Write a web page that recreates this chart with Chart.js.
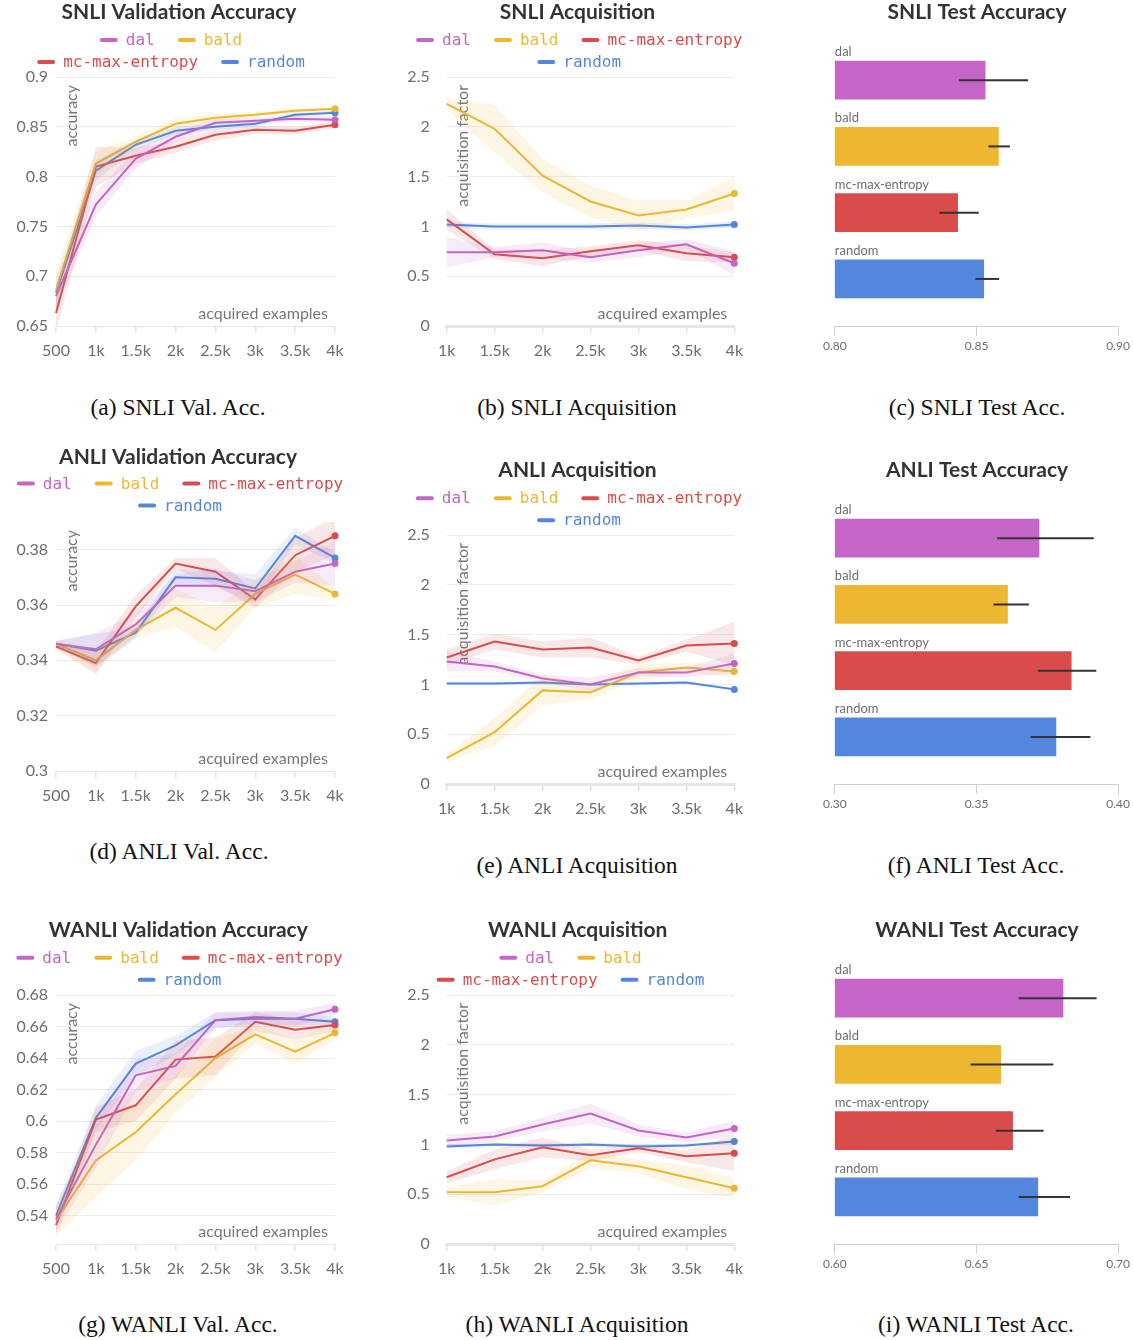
<!DOCTYPE html>
<html>
<head>
<meta charset="utf-8">
<script src="https://cdn.jsdelivr.net/npm/chart.js@4.4.1/dist/chart.umd.min.js"></script>
<style>
body { margin: 0; background: #fff; width: 1133px; height: 1340px; position: relative; overflow: hidden; }
.pane { position: absolute; }
.cap { position: absolute; width: 360px; text-align: center; font-family: "Liberation Serif", serif; font-size: 23.5px; line-height: 28px; color: #111; }
</style>
</head>
<body>
<canvas id="snliVal" class="pane" width="357" height="372" style="left:0;top:0"></canvas>
<canvas id="snliAcq" class="pane" width="355" height="372" style="left:400px;top:0"></canvas>
<canvas id="snliTest" class="pane" width="313" height="372" style="left:820px;top:0"></canvas>
<canvas id="anliVal" class="pane" width="357" height="372" style="left:0;top:445px"></canvas>
<canvas id="anliAcq" class="pane" width="355" height="372" style="left:400px;top:458px"></canvas>
<canvas id="anliTest" class="pane" width="313" height="372" style="left:820px;top:458px"></canvas>
<canvas id="wanliVal" class="pane" width="357" height="372" style="left:0;top:918px"></canvas>
<canvas id="wanliAcq" class="pane" width="355" height="372" style="left:400px;top:918px"></canvas>
<canvas id="wanliTest" class="pane" width="313" height="372" style="left:820px;top:918px"></canvas>

<div class="cap" style="left:-2px;top:393px">(a) SNLI Val. Acc.</div>
<div class="cap" style="left:397px;top:393px">(b) SNLI Acquisition</div>
<div class="cap" style="left:797px;top:393px">(c) SNLI Test Acc.</div>
<div class="cap" style="left:-1px;top:837px">(d) ANLI Val. Acc.</div>
<div class="cap" style="left:397px;top:851px">(e) ANLI Acquisition</div>
<div class="cap" style="left:796px;top:851px">(f) ANLI Test Acc.</div>
<div class="cap" style="left:-2px;top:1310px">(g) WANLI Val. Acc.</div>
<div class="cap" style="left:397px;top:1310px">(h) WANLI Acquisition</div>
<div class="cap" style="left:796px;top:1310px">(i) WANLI Test Acc.</div>

<script>
// methods and colours
const methods = ['dal', 'bald', 'mc-max-entropy', 'random'];
const methodColors = ['#c565c7', '#edb732', '#da4c4c', '#5387dd'];

// x steps (acquired examples)
const valSteps = ['500', '1k', '1.5k', '2k', '2.5k', '3k', '3.5k', '4k'];
const acqSteps = ['1k', '1.5k', '2k', '2.5k', '3k', '3.5k', '4k'];

// y tick labels
const snliValTicks = [0.65, 0.7, 0.75, 0.8, 0.85, 0.9];
const anliValTicks = [0.3, 0.32, 0.34, 0.36, 0.38];
const wanliValTicks = [0.54, 0.56, 0.58, 0.6, 0.62, 0.64, 0.66, 0.68];
const acqTicks = [0, 0.5, 1, 1.5, 2, 2.5];
const snliTestTicks = [0.80, 0.85, 0.90];
const anliTestTicks = [0.30, 0.35, 0.40];
const wanliTestTicks = [0.60, 0.65, 0.70];

// SNLI validation accuracy (mean, spread)
const snliValDal    = [0.680, 0.772, 0.818, 0.840, 0.854, 0.856, 0.858, 0.857];
const snliValBald   = [0.686, 0.813, 0.835, 0.853, 0.859, 0.862, 0.866, 0.868];
const snliValMc     = [0.663, 0.810, 0.821, 0.830, 0.842, 0.847, 0.846, 0.852];
const snliValRandom = [0.683, 0.806, 0.832, 0.846, 0.850, 0.853, 0.862, 0.864];
const snliValDalSd    = [0.012, 0.012, 0.010, 0.005, 0.004, 0.003, 0.003, 0.003];
const snliValBaldSd   = [0.020, 0.012, 0.006, 0.006, 0.004, 0.003, 0.002, 0.002];
const snliValMcSd     = [0.018, 0.020, 0.008, 0.006, 0.006, 0.004, 0.004, 0.003];
const snliValRandomSd = [0.015, 0.010, 0.005, 0.004, 0.003, 0.003, 0.002, 0.002];

// SNLI acquisition factor
const snliAcqDal    = [0.74, 0.74, 0.76, 0.69, 0.76, 0.82, 0.63];
const snliAcqBald   = [2.23, 1.98, 1.51, 1.25, 1.11, 1.17, 1.33];
const snliAcqMc     = [1.07, 0.72, 0.68, 0.75, 0.81, 0.73, 0.69];
const snliAcqRandom = [1.02, 1.00, 1.00, 1.00, 1.01, 0.99, 1.02];
const snliAcqDalSd    = [0.15, 0.05, 0.08, 0.05, 0.07, 0.05, 0.12];
const snliAcqBaldSd   = [0.06, 0.24, 0.17, 0.16, 0.15, 0.09, 0.17];
const snliAcqMcSd     = [0.10, 0.05, 0.08, 0.05, 0.05, 0.08, 0.05];
const snliAcqRandomSd = [0.03, 0.03, 0.03, 0.03, 0.03, 0.03, 0.03];

// ANLI validation accuracy
const anliValDal    = [0.346, 0.344, 0.353, 0.367, 0.367, 0.365, 0.372, 0.375];
const anliValBald   = [0.346, 0.340, 0.351, 0.359, 0.351, 0.364, 0.371, 0.364];
const anliValMc     = [0.345, 0.339, 0.3595, 0.375, 0.372, 0.362, 0.378, 0.385];
const anliValRandom = [0.346, 0.3435, 0.350, 0.370, 0.3695, 0.366, 0.385, 0.377];
const anliValDalSd    = [0.001, 0.006, 0.004, 0.004, 0.006, 0.004, 0.004, 0.008];
const anliValBaldSd   = [0.001, 0.004, 0.003, 0.007, 0.008, 0.005, 0.007, 0.002];
const anliValMcSd     = [0.001, 0.004, 0.004, 0.002, 0.005, 0.003, 0.006, 0.007];
const anliValRandomSd = [0.001, 0.006, 0.002, 0.003, 0.003, 0.005, 0.003, 0.002];

// ANLI acquisition factor
const anliAcqDal    = [1.23, 1.18, 1.06, 1.00, 1.12, 1.12, 1.21];
const anliAcqBald   = [0.26, 0.52, 0.94, 0.92, 1.12, 1.17, 1.13];
const anliAcqMc     = [1.27, 1.43, 1.35, 1.37, 1.24, 1.39, 1.41];
const anliAcqRandom = [1.01, 1.01, 1.02, 1.00, 1.01, 1.02, 0.95];
const anliAcqDalSd    = [0.10, 0.05, 0.04, 0.07, 0.04, 0.05, 0.10];
const anliAcqBaldSd   = [0.04, 0.14, 0.15, 0.07, 0.08, 0.05, 0.06];
const anliAcqMcSd     = [0.08, 0.08, 0.08, 0.10, 0.04, 0.06, 0.22];
const anliAcqRandomSd = [0.015, 0.015, 0.015, 0.015, 0.015, 0.015, 0.015];

// WANLI validation accuracy
const wanliValDal    = [0.538, 0.585, 0.629, 0.635, 0.664, 0.666, 0.665, 0.671];
const wanliValBald   = [0.537, 0.575, 0.593, 0.617, 0.640, 0.655, 0.644, 0.656];
const wanliValMc     = [0.534, 0.601, 0.610, 0.639, 0.641, 0.663, 0.658, 0.661];
const wanliValRandom = [0.540, 0.602, 0.6365, 0.648, 0.664, 0.665, 0.665, 0.663];
const wanliValDalSd    = [0.008, 0.015, 0.010, 0.008, 0.005, 0.004, 0.005, 0.004];
const wanliValBaldSd   = [0.010, 0.023, 0.018, 0.012, 0.012, 0.006, 0.008, 0.004];
const wanliValMcSd     = [0.006, 0.008, 0.010, 0.012, 0.012, 0.006, 0.006, 0.004];
const wanliValRandomSd = [0.006, 0.008, 0.008, 0.006, 0.005, 0.004, 0.004, 0.003];

// WANLI acquisition factor
const wanliAcqDal    = [1.04, 1.08, 1.20, 1.31, 1.14, 1.07, 1.16];
const wanliAcqBald   = [0.52, 0.52, 0.58, 0.84, 0.78, 0.67, 0.56];
const wanliAcqMc     = [0.67, 0.85, 0.97, 0.89, 0.96, 0.88, 0.91];
const wanliAcqRandom = [0.98, 1.00, 0.99, 1.00, 0.98, 0.99, 1.03];
const wanliAcqDalSd    = [0.06, 0.05, 0.07, 0.10, 0.06, 0.05, 0.08];
const wanliAcqBaldSd   = [0.05, 0.13, 0.06, 0.08, 0.07, 0.12, 0.10];
const wanliAcqMcSd     = [0.06, 0.10, 0.10, 0.06, 0.04, 0.06, 0.18];
const wanliAcqRandomSd = [0.02, 0.02, 0.02, 0.02, 0.02, 0.02, 0.02];

// test accuracy (bar, error low, error high) in method order
const snliTest     = [0.8534, 0.8581, 0.8437, 0.8529];
const snliTestLow  = [0.8438, 0.8542, 0.8369, 0.8496];
const snliTestHigh = [0.8682, 0.8618, 0.8508, 0.8580];
const anliTest     = [0.3724, 0.3613, 0.3838, 0.3784];
const anliTestLow  = [0.3573, 0.3560, 0.3717, 0.3691];
const anliTestHigh = [0.3914, 0.3685, 0.3923, 0.3902];
const wanliTest     = [0.6809, 0.6589, 0.6631, 0.6720];
const wanliTestLow  = [0.6649, 0.6479, 0.6568, 0.6649];
const wanliTestHigh = [0.6924, 0.6771, 0.6737, 0.6830];

Chart.defaults.font.family = 'Lato';

function fade(hex, a) {
  const n = parseInt(hex.slice(1), 16);
  return 'rgba(' + (n >> 16) + ',' + ((n >> 8) & 255) + ',' + (n & 255) + ',' + a + ')';
}

// title + legend of the line panels: short dash and monospace coloured name
const header = {
  id: 'header',
  afterDraw(chart, args, o) {
    const ctx = chart.ctx;
    ctx.save();
    ctx.font = 'bold 21px Lato';
    ctx.fillStyle = '#333';
    ctx.textAlign = 'center';
    ctx.textBaseline = 'middle';
    ctx.fillText(o.title, o.titleX, 12.6);

    ctx.font = '16px "DejaVu Sans Mono"';
    ctx.textAlign = 'left';
    o.rows.forEach(function (row, r) {
      const widths = row.map(k => 26 + ctx.measureText(methods[k]).width);
      const total = widths.reduce((a, b) => a + b, 0) + 23 * (row.length - 1);
      let x = o.center - total / 2;
      const y = o.top + r * 22;
      row.forEach(function (k, j) {
        ctx.strokeStyle = methodColors[k];
        ctx.lineWidth = 4;
        ctx.lineCap = 'round';
        ctx.beginPath();
        ctx.moveTo(x + 2, y);
        ctx.lineTo(x + 16, y);
        ctx.stroke();
        ctx.fillStyle = methodColors[k];
        ctx.fillText(methods[k], x + 26, y + 1);
        x += widths[j] + 23;
      });
    });
    ctx.restore();
  }
};

// axis titles sit inside the plot area
const axisNotes = {
  id: 'axisNotes',
  beforeDatasetsDraw(chart, args, o) {
    const ctx = chart.ctx, a = chart.chartArea;
    ctx.save();
    ctx.font = '16px Lato';
    ctx.fillStyle = '#777';
    ctx.textAlign = 'right';
    ctx.textBaseline = 'alphabetic';
    ctx.fillText(o.xTitle, a.right - 7, a.bottom - 7);
    ctx.translate(a.left + 21, a.top + 8);
    ctx.rotate(-Math.PI / 2);
    ctx.fillText(o.yTitle, 0, 0);
    ctx.restore();
  }
};

// category names above bars and error whiskers
const barExtras = {
  id: 'barExtras',
  afterDatasetsDraw(chart, args, o) {
    const ctx = chart.ctx, xs = chart.scales.x;
    const bars = chart.getDatasetMeta(0).data;
    ctx.save();
    bars.forEach(function (bar, i) {
      ctx.font = '13px Lato';
      ctx.fillStyle = '#6e6e6e';
      ctx.textAlign = 'left';
      ctx.textBaseline = 'alphabetic';
      ctx.fillText(methods[i], chart.chartArea.left, bar.y - bar.height / 2 - 4);
      ctx.strokeStyle = '#333';
      ctx.lineWidth = 2;
      ctx.beginPath();
      ctx.moveTo(xs.getPixelForValue(o.low[i]), bar.y);
      ctx.lineTo(xs.getPixelForValue(o.high[i]), bar.y);
      ctx.stroke();
    });
    ctx.restore();
  }
};

function lineDatasets(series, spreads) {
  const sets = [];
  series.forEach(function (mean, k) {
    const sp = spreads[k];
    sets.push({ label: methods[k] + ' upper', data: mean.map((v, i) => v + sp[i]),
      borderColor: 'transparent', borderWidth: 0, pointRadius: 0, fill: false });
    sets.push({ label: methods[k] + ' lower', data: mean.map((v, i) => v - sp[i]),
      borderColor: 'transparent', borderWidth: 0, pointRadius: 0, fill: '-1',
      backgroundColor: fade(methodColors[k], 0.13) });
  });
  series.forEach(function (mean, k) {
    sets.push({ label: methods[k], data: mean, borderColor: methodColors[k],
      backgroundColor: methodColors[k], borderWidth: 2, tension: 0,
      pointRadius: ctx => (ctx.dataIndex === mean.length - 1 ? 3.5 : 0),
      pointBorderWidth: 0, fill: false });
  });
  return sets;
}

function makeLineChart(id, p) {
  return new Chart(document.getElementById(id), {
    type: 'line',
    data: { labels: p.steps, datasets: lineDatasets(p.series, p.spreads) },
    options: {
      responsive: false,
      animation: false,
      layout: { padding: { left: 0, right: p.padRight, top: 77, bottom: 3.8 } },
      scales: {
        x: {
          type: 'category',
          offset: false,
          grid: { offset: false, drawOnChartArea: false, drawTicks: true, tickLength: 7, color: '#e4e4e4', lineWidth: 1.5 },
          border: { display: true, color: '#e6e6e6', width: p.baseWidth },
          ticks: { color: '#6e6e6e', font: { size: 16 }, padding: 8, maxRotation: 0, autoSkip: false }
        },
        y: {
          min: p.yMin,
          max: p.yMax,
          afterBuildTicks: function (axis) { axis.ticks = p.yTicks.map(v => ({ value: v })); },
          afterFit: function (scale) { scale.width = p.yWidth; },
          grid: { color: '#ececec', drawTicks: false },
          border: { display: false },
          ticks: { color: '#6e6e6e', font: { size: 16 }, padding: p.yPad, callback: v => String(v) }
        }
      },
      plugins: {
        title: { display: false },
        legend: { display: false },
        tooltip: { enabled: false },
        header: { title: p.title, titleX: p.titleX, rows: p.rows, center: p.legendX, top: p.legendY },
        axisNotes: { xTitle: 'acquired examples', yTitle: p.yTitle }
      }
    },
    plugins: [header, axisNotes]
  });
}

function makeBarChart(id, p) {
  return new Chart(document.getElementById(id), {
    type: 'bar',
    data: {
      datasets: [{
        label: p.title,
        data: p.values.map((v, i) => ({ x: v, y: i })),
        backgroundColor: methodColors,
        borderColor: 'rgba(255,255,255,0.5)',
        borderWidth: 1,
        barThickness: 40
      }]
    },
    options: {
      indexAxis: 'y',
      responsive: false,
      animation: false,
      layout: { padding: { left: 12.4, right: 11.4, top: 0, bottom: 15.6 } },
      scales: {
        x: {
          type: 'linear',
          min: p.ticks[0],
          max: p.ticks[p.ticks.length - 1],
          afterBuildTicks: function (axis) { axis.ticks = p.ticks.map(v => ({ value: v })); },
          grid: { drawOnChartArea: false, drawTicks: true, tickLength: 10, color: '#cfcfcf' },
          border: { display: true, color: '#cfcfcf' },
          ticks: { color: '#6e6e6e', font: { size: 12 }, padding: 3, callback: v => v.toFixed(2) }
        },
        y: { type: 'linear', reverse: true, offset: false, min: -0.5, max: 3.71, display: false }
      },
      plugins: {
        title: { display: true, text: p.title, color: '#333', font: { size: 21, weight: 'bold' },
          padding: { top: 0, bottom: 21.8 } },
        legend: { display: false },
        tooltip: { enabled: false },
        barExtras: { low: p.low, high: p.high }
      }
    },
    plugins: [barExtras]
  });
}

makeLineChart('snliVal', {
  title: 'SNLI Validation Accuracy', titleX: 179, steps: valSteps,
  series: [snliValDal, snliValBald, snliValMc, snliValRandom],
  spreads: [snliValDalSd, snliValBaldSd, snliValMcSd, snliValRandomSd],
  yMin: 0.65, yMax: 0.9, yTicks: snliValTicks, yTitle: 'accuracy',
  yWidth: 56, yPad: 8, padRight: 22, baseWidth: 1,
  rows: [[0, 1], [2, 3]], legendX: 171, legendY: 40
});
makeLineChart('snliAcq', {
  title: 'SNLI Acquisition', titleX: 177.5, steps: acqSteps,
  series: [snliAcqDal, snliAcqBald, snliAcqMc, snliAcqRandom],
  spreads: [snliAcqDalSd, snliAcqBaldSd, snliAcqMcSd, snliAcqRandomSd],
  yMin: 0, yMax: 2.5, yTicks: acqTicks, yTitle: 'acquisition factor',
  yWidth: 46.7, yPad: 17, padRight: 20.7, baseWidth: 3,
  rows: [[0, 1, 2], [3]], legendX: 179.2, legendY: 40
});
makeBarChart('snliTest', {
  title: 'SNLI Test Accuracy', values: snliTest, low: snliTestLow, high: snliTestHigh, ticks: snliTestTicks
});

makeLineChart('anliVal', {
  title: 'ANLI Validation Accuracy', titleX: 178, steps: valSteps,
  series: [anliValDal, anliValBald, anliValMc, anliValRandom],
  spreads: [anliValDalSd, anliValBaldSd, anliValMcSd, anliValRandomSd],
  yMin: 0.3, yMax: 0.39, yTicks: anliValTicks, yTitle: 'accuracy',
  yWidth: 56, yPad: 8, padRight: 22, baseWidth: 1,
  rows: [[0, 1, 2], [3]], legendX: 180, legendY: 38.5
});
makeLineChart('anliAcq', {
  title: 'ANLI Acquisition', titleX: 177.5, steps: acqSteps,
  series: [anliAcqDal, anliAcqBald, anliAcqMc, anliAcqRandom],
  spreads: [anliAcqDalSd, anliAcqBaldSd, anliAcqMcSd, anliAcqRandomSd],
  yMin: 0, yMax: 2.5, yTicks: acqTicks, yTitle: 'acquisition factor',
  yWidth: 46.7, yPad: 17, padRight: 20.7, baseWidth: 3,
  rows: [[0, 1, 2], [3]], legendX: 179, legendY: 40.3
});
makeBarChart('anliTest', {
  title: 'ANLI Test Accuracy', values: anliTest, low: anliTestLow, high: anliTestHigh, ticks: anliTestTicks
});

makeLineChart('wanliVal', {
  title: 'WANLI Validation Accuracy', titleX: 178.3, steps: valSteps,
  series: [wanliValDal, wanliValBald, wanliValMc, wanliValRandom],
  spreads: [wanliValDalSd, wanliValBaldSd, wanliValMcSd, wanliValRandomSd],
  yMin: 0.522, yMax: 0.68, yTicks: wanliValTicks, yTitle: 'accuracy',
  yWidth: 56, yPad: 8, padRight: 22, baseWidth: 1,
  rows: [[0, 1, 2], [3]], legendX: 179.5, legendY: 39.7
});
makeLineChart('wanliAcq', {
  title: 'WANLI Acquisition', titleX: 177.7, steps: acqSteps,
  series: [wanliAcqDal, wanliAcqBald, wanliAcqMc, wanliAcqRandom],
  spreads: [wanliAcqDalSd, wanliAcqBaldSd, wanliAcqMcSd, wanliAcqRandomSd],
  yMin: 0, yMax: 2.5, yTicks: acqTicks, yTitle: 'acquisition factor',
  yWidth: 46.7, yPad: 17, padRight: 20.7, baseWidth: 3,
  rows: [[0, 1], [2, 3]], legendX: 170.5, legendY: 39.7
});
makeBarChart('wanliTest', {
  title: 'WANLI Test Accuracy', values: wanliTest, low: wanliTestLow, high: wanliTestHigh, ticks: wanliTestTicks
});
</script>
</body>
</html>
